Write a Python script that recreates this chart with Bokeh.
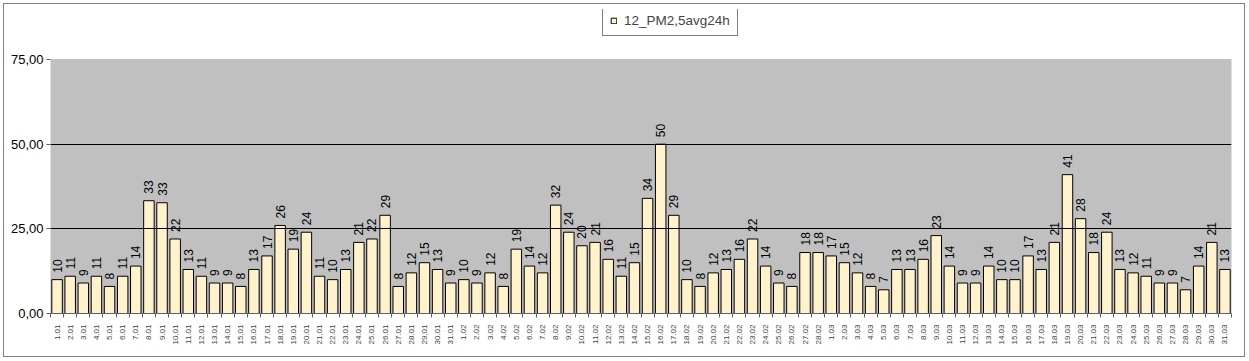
import numpy as np
from bokeh.plotting import figure
from bokeh.models import (ColumnDataSource, FixedTicker, CustomJSTickFormatter,
                          Legend, LegendItem, Range1d, BoxAnnotation)
from bokeh.embed import file_html
from bokeh.resources import INLINE
from bokeh.core.properties import value

# ---- data ----
jan_days = [f"{d}.01" for d in range(1, 32)]
feb_days = [f"{d}.02" for d in range(1, 29)]
mar_days = [f"{d}.03" for d in range(1, 32)]
dates = jan_days + feb_days + mar_days

jan_vals = [10, 11, 9, 11, 8, 11, 14, 33.3, 32.7, 22, 13, 11, 9, 9, 8, 13, 17, 26, 19, 24,
            11, 10, 13, 21, 22, 29, 8, 12, 15, 13, 9]
feb_vals = [10, 9, 12, 8, 19, 14, 12, 32, 24, 20, 21, 16, 11, 15, 34, 50, 29, 10, 8, 12,
            13, 16, 22, 14, 9, 8, 18, 18]
mar_vals = [17, 15, 12, 8, 7, 13, 13, 16, 23, 14, 9, 9, 14, 10, 10, 17, 13, 21, 41, 28,
            18, 24, 13, 12, 11, 9, 9, 7, 14, 21, 13]
pm25 = jan_vals + feb_vals + mar_vals

series_name = "12_PM2,5avg24h"
y_ticks = [0, 25, 50, 75]
grid_ticks = [25, 50]
y_max = 75

n = len(dates)
xpos = np.arange(n) + 0.5
labels = [str(int(round(v))) for v in pm25]

src = ColumnDataSource(dict(x=xpos, y=pm25, lab=labels))

# frame extends above the plot area so the legend (inside the frame) is not clipped
top_val = y_max * (313 - 9) / (313 - 59)

p = figure(width=1242, height=354, output_backend="svg", toolbar_location=None,
           x_range=Range1d(0, n), y_range=Range1d(0, top_val),
           min_border_left=46, min_border_right=15, min_border_top=5, min_border_bottom=45)
p.styles = {"border": "1px solid #808080", "margin": "3px"}

p.background_fill_color = "white"
p.border_fill_color = "white"
p.outline_line_color = None

plot_area = BoxAnnotation(left=0, right=n, bottom=0, top=y_max,
                          fill_color="#C0C0C0", fill_alpha=1,
                          line_color="#808080", line_width=1, level="underlay")
p.add_layout(plot_area)

bars = p.vbar(x="x", top="y", width=0.8, bottom=0, source=src,
              fill_color="#FFF2CC", line_color="black", line_width=1)

p.text(x="x", y="y", text="lab", source=src, angle=np.pi / 2,
       text_align="left", text_baseline="middle", y_offset=-7,
       text_font=value("Liberation Sans"), text_font_size="12px", text_color="black")

# grid
p.xgrid.visible = False
p.ygrid.ticker = FixedTicker(ticks=grid_ticks)
p.ygrid.grid_line_color = "black"
p.ygrid.grid_line_width = 1
p.ygrid.level = "glyph"
bars.level = "glyph"

# y axis
p.yaxis.ticker = FixedTicker(ticks=y_ticks)
p.yaxis.formatter = CustomJSTickFormatter(code="return tick.toFixed(2).replace('.', ',');")
p.yaxis.major_label_text_font = "Liberation Sans"
p.yaxis.major_label_text_font_size = "13px"
p.yaxis.major_label_text_color = "black"
p.yaxis.axis_line_color = None
p.yaxis.major_tick_line_color = "#606060"
p.yaxis.major_tick_out = 4
p.yaxis.major_tick_in = 0
p.yaxis.minor_tick_line_color = None
p.yaxis.major_label_standoff = 3

# x axis
p.xaxis.ticker = FixedTicker(ticks=list(xpos), minor_ticks=list(range(n + 1)))
p.xaxis.formatter = CustomJSTickFormatter(args=dict(cats=dates),
                                          code="return cats[Math.floor(tick)];")
p.xaxis.major_label_orientation = np.pi / 2
p.xaxis.major_label_text_font = "Liberation Sans"
p.xaxis.major_label_text_font_size = "8px"
p.xaxis.major_label_text_color = "#404040"
p.xaxis.major_tick_line_color = None
p.xaxis.minor_tick_line_color = "#606060"
p.xaxis.minor_tick_out = 4
p.xaxis.minor_tick_in = 0
p.xaxis.axis_line_color = "#606060"
p.xaxis.major_label_standoff = 5

legend = Legend(items=[LegendItem(label=series_name, renderers=[bars])],
                location=(552, 277), orientation="horizontal",
                border_line_color="black", border_line_width=1,
                background_fill_color="white", background_fill_alpha=1,
                label_text_font="Liberation Sans", label_text_font_size="13.5px",
                glyph_width=7, glyph_height=7, label_height=10, padding=7,
                label_standoff=7, margin=0, spacing=0)
p.add_layout(legend, "center")

open("out.html", "w").write(file_html(p, INLINE))
